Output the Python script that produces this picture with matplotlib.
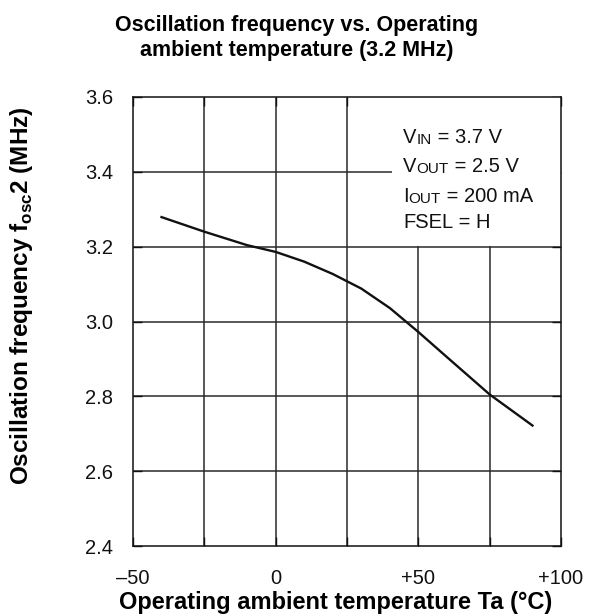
import matplotlib
matplotlib.use("Agg")
import matplotlib.pyplot as plt
from matplotlib.patches import Rectangle

plt.rcParams['font.family'] = ['Liberation Sans', 'DejaVu Sans']
plt.rcParams['mathtext.fontset'] = 'custom'
plt.rcParams['mathtext.rm'] = 'Liberation Sans'
plt.rcParams['mathtext.bf'] = 'Liberation Sans:bold'

# data
temp = [-40, -25, -10, 0, 10, 20, 30, 40, 50, 60, 75, 90]
freq = [3.279, 3.240, 3.204, 3.186, 3.160, 3.127, 3.088, 3.036, 2.972, 2.905, 2.805, 2.722]
xticks = [-50, 0, 50, 100]
xticklabels = ['\u201350', '0', '+50', '+100']
yticks = [2.4, 2.6, 2.8, 3.0, 3.2, 3.4, 3.6]
conditions = [('V', 'IN', ' = 3.7 V'), ('V', 'OUT', ' = 2.5 V'),
              ('I', 'OUT', ' = 200 mA'), ('FSEL', '', ' = H')]

W, H = 594, 616
fig = plt.figure(figsize=(W / 100, H / 100), dpi=100)
ax = fig.add_axes([133 / W, 1 - 546 / H, 428 / W, 449 / H])

# grid
for gx in range(-25, 100, 25):
    ax.axvline(gx, color='#2a2a2a', lw=1.1, zorder=1)
for gy in yticks[1:-1]:
    ax.axhline(gy, color='#2a2a2a', lw=1.1, zorder=1)

# white box behind the conditions
ax.add_patch(Rectangle(((392 - 133) / 428, (546 - 246) / 449), 1, 1,
                       transform=ax.transAxes, facecolor='white',
                       edgecolor='none', zorder=2))

ax.plot(temp, freq, color='#111111', lw=1.7, zorder=3)

ax.set_xlim(-50, 100)
ax.set_ylim(2.4, 3.6)
ax.set_xticks(xticks)
ax.set_xticklabels(xticklabels)
ax.set_yticks(yticks)
ax.set_yticklabels(['%.1f' % v for v in yticks])
ax.set_xticks(range(-50, 101, 25), minor=True)
ax.tick_params(axis='both', which='both', direction='in', length=6.5, width=1,
               top=True, right=True, labelsize=14.5, colors='#111111')
ax.tick_params(axis='x', pad=16.5)
ax.tick_params(axis='y', pad=14.5)
for sp in ax.spines.values():
    sp.set_linewidth(1.1)
    sp.set_color('#111111')
    sp.set_zorder(5)

# condition texts
rows_y = [143, 172, 202, 228]
for (a, b, c), yy in zip(conditions, rows_y):
    t = ax.text(403 / W, 1 - yy / H, a, transform=fig.transFigure, fontsize=14.5,
                va='baseline', ha='left', zorder=6, color='#111111')
    if b:
        t = ax.annotate(b, xy=(1, 0), xycoords=t, fontsize=11, va='bottom',
                        ha='left', zorder=6, color='#111111')
    ax.annotate(c, xy=(1, 0), xycoords=t, fontsize=14.5, va='bottom',
                ha='left', zorder=6, color='#111111')

fig.text(0.5, 1 - 38 / H, 'Oscillation frequency vs. Operating\nambient temperature (3.2 MHz)',
         ha='center', va='center', fontsize=15.5, fontweight='bold', linespacing=1.25)
fig.text(336 / W, 1 - 603 / H, 'Operating ambient temperature Ta (\u00b0C)',
         ha='center', va='center', fontsize=17, fontweight='bold')
fig.text(22 / W, 1 - 296 / H, r'Oscillation frequency f$_\mathbf{osc}$2 (MHz)',
         ha='center', va='center', rotation=90, fontsize=17.5, fontweight='bold')

fig.savefig('out.png', dpi=100)
